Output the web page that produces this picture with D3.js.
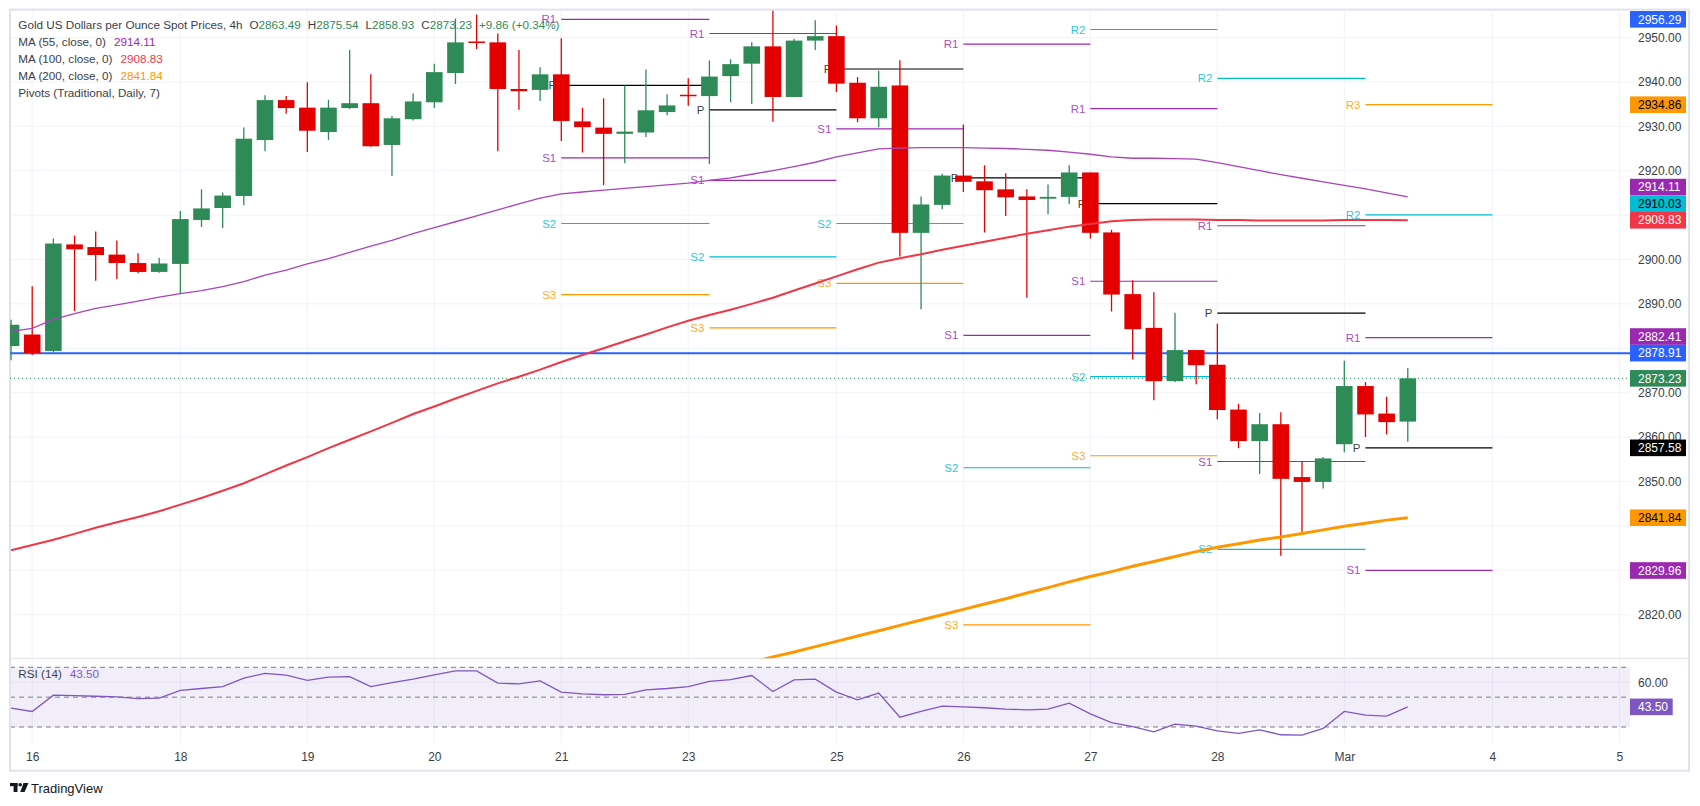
<!DOCTYPE html>
<html>
<head>
<meta charset="utf-8">
<script src="https://cdn.jsdelivr.net/npm/d3@7"></script>
<style>
  body { margin: 0; background: #fff; }
  text { font-family: "Liberation Sans", Arial, sans-serif; }
</style>
</head>
<body>
<svg id="chart" width="1700" height="806"></svg>
<script>
// 4h candles, Feb 16 -> Mar 3
var opens  = [2880.5,2883.1,2879.4,2903.4,2902.8,2901.1,2899.2,2897.2,2899.0,2908.9,2911.6,2914.3,2926.9,2935.9,2934.2,2928.7,2934.1,2935.2,2925.8,2931.6,2935.4,2942.0,2949.1,2948.9,2938.4,2938.2,2941.7,2931.1,2929.7,2928.3,2928.6,2933.2,2937.1,2936.8,2941.3,2944.1,2948.0,2936.6,2949.3,2950.3,2939.8,2931.8,2939.2,2906.0,2912.3,2918.9,2917.6,2915.8,2914.2,2913.7,2914.1,2919.6,2906.1,2892.2,2884.6,2872.6,2879.6,2876.3,2866.2,2859.1,2862.9,2851.0,2849.9,2858.4,2871.5,2865.3,2863.49];
var highs  = [2886.4,2894.0,2904.7,2905.4,2906.3,2904.3,2901.4,2900.4,2910.9,2915.8,2915.1,2929.7,2937.0,2936.8,2939.9,2936.0,2947.2,2941.7,2932.3,2937.4,2944.1,2954.3,2955.2,2950.9,2947.2,2943.3,2949.8,2934.2,2936.3,2939.2,2942.8,2937.2,2940.8,2944.8,2945.1,2948.9,2956.0,2949.7,2953.9,2952.7,2941.1,2942.5,2944.9,2914.2,2919.3,2930.4,2921.2,2919.4,2915.8,2916.9,2921.2,2919.6,2906.7,2895.3,2892.6,2888.0,2879.6,2885.5,2867.5,2865.4,2865.6,2854.5,2855.5,2877.2,2872.4,2869.1,2875.54];
var lows   = [2877.3,2878.5,2879.0,2888.4,2895.2,2895.6,2896.9,2897.0,2892.2,2907.3,2907.1,2912.2,2924.4,2932.8,2924.2,2926.9,2933.9,2925.4,2918.8,2931.3,2934.1,2939.5,2947.4,2924.4,2933.7,2935.7,2926.7,2924.1,2916.7,2921.7,2927.6,2932.5,2934.6,2921.5,2935.4,2935.0,2931.0,2936.6,2947.2,2937.7,2930.9,2929.8,2900.7,2888.8,2911.3,2915.2,2906.1,2909.8,2891.4,2910.2,2912.5,2904.7,2888.3,2877.5,2868.3,2872.4,2871.9,2864.0,2857.5,2851.7,2833.3,2838.7,2848.4,2856.6,2860.0,2860.6,2858.93];
var closes = [2885.3,2878.9,2903.6,2902.3,2901.0,2899.2,2897.2,2899.1,2909.1,2911.5,2914.4,2927.2,2935.9,2934.1,2929.0,2934.2,2935.2,2925.5,2931.8,2935.6,2942.2,2948.9,2949.0,2938.4,2937.9,2941.7,2931.2,2929.8,2928.3,2928.8,2933.6,2934.7,2936.9,2941.2,2944.0,2948.0,2936.6,2949.3,2950.3,2939.6,2931.8,2938.9,2906.0,2912.4,2918.9,2917.5,2915.6,2914.0,2913.4,2914.1,2919.6,2906.0,2892.1,2884.3,2872.6,2879.6,2876.2,2866.1,2859.1,2862.9,2850.6,2849.9,2855.2,2871.5,2865.1,2863.37,2873.23];

var ma55  = [2883.8,2884.5,2886.5,2887.8,2889.0,2889.8,2890.6,2891.5,2892.3,2893.0,2893.9,2895.0,2896.5,2897.6,2899.0,2900.2,2901.6,2903.0,2904.3,2905.8,2907.2,2908.5,2909.8,2911.2,2912.5,2913.8,2914.8,2915.2,2915.6,2916.0,2916.4,2916.8,2917.2,2917.8,2918.4,2919.2,2920.0,2920.9,2921.9,2923.1,2924.0,2924.9,2925.1,2925.2,2925.2,2925.2,2925.1,2925.0,2924.8,2924.6,2924.2,2923.7,2923.1,2922.8,2922.8,2922.7,2922.6,2921.8,2920.9,2920.0,2919.1,2918.3,2917.5,2916.7,2915.9,2915.0,2914.11];
var ma100 = [2834.5,2835.7,2836.9,2838.2,2839.6,2840.8,2842.0,2843.3,2844.8,2846.3,2847.9,2849.6,2851.6,2853.6,2855.5,2857.5,2859.4,2861.3,2863.2,2865.2,2866.9,2868.7,2870.4,2872.1,2873.6,2875.2,2876.9,2878.5,2880.0,2881.6,2883.1,2884.7,2886.2,2887.5,2888.7,2890.0,2891.4,2893.0,2894.6,2896.2,2897.8,2899.3,2900.3,2901.2,2902.2,2903.1,2904.0,2904.9,2905.8,2906.6,2907.4,2908.0,2908.6,2908.9,2909.0,2909.0,2909.0,2908.9,2908.9,2908.8,2908.8,2908.8,2908.8,2908.9,2908.9,2908.9,2908.83];
// MA200 sits below the visible price range before candle 35
var ma200 = [null,null,null,null,null,null,null,null,null,null,null,null,null,null,null,null,null,null,null,null,null,null,null,null,null,null,null,null,null,null,null,null,null,null,null,2809.3,2810.5,2811.6,2812.8,2814.0,2815.2,2816.4,2817.6,2818.8,2820.0,2821.2,2822.4,2823.6,2824.9,2826.1,2827.4,2828.6,2829.7,2830.9,2832.0,2833.1,2834.2,2835.2,2836.0,2836.8,2837.5,2838.3,2839.1,2839.9,2840.6,2841.3,2841.84];
var rsi14 = [42.6,40.4,51.3,51.0,50.6,50.2,49.0,49.3,54.5,55.8,57.1,62.7,65.9,64.7,61.2,63.4,63.8,57.1,59.8,62.1,65.0,67.6,67.6,59.4,58.9,60.9,53.4,52.2,51.6,51.8,54.9,55.8,57.1,60.6,61.8,64.5,53.8,61.6,62.1,53.4,48.2,52.7,36.6,40.4,44.0,43.5,42.9,42.0,41.5,42.0,46.0,38.8,33.0,30.3,26.8,31.9,30.6,27.4,25.7,28.1,24.8,24.5,29.0,40.4,37.9,37.3,43.5];

var dayLabels = ["16","18","19","20","21","23","25","26","27","28","Mar","4","5"];
var dayIndex  = [1,8,14,20,26,32,39,45,51,57,63,70,76];
var priceTicks = [2820,2830,2840,2850,2860,2870,2880,2890,2900,2910,2920,2930,2940,2950];
var rsiTicks = [60, 40];

// daily traditional pivots, last 7 sessions (null = outside the view)
var pivStart = [26,33,39,45,51,57,64];
var pivEnd   = [33,39,45,51,57,64,70];
var pivP  = [2939.2,2933.7,2942.9,2918.4,2912.6,2887.9,2857.58];
var pivR1 = [2954.1,2950.9,null,2948.5,2934.0,2907.6,2882.41];
var pivR2 = [null,null,null,null,2951.8,2940.8,2910.03];
var pivR3 = [null,null,null,null,null,null,2934.86];
var pivS1 = [2922.9,2917.8,2929.4,2882.9,2895.1,2854.5,2829.96];
var pivS2 = [2908.1,2900.6,2908.1,2853.1,2873.6,2834.7,null];
var pivS3 = [2892.1,2884.6,2894.6,2817.7,2855.8,null,null];

var hLine = 2878.91;
var topMarker = 2956.29;

var UP = "#2e8b57", DOWN = "#e50000";
var C55 = "#a944bb", C100 = "#f23645", C200 = "#ff9800";
var CPURP = "#9c27b0", CCYAN = "#00bcd4", CORNG = "#ff9800", CBLK = "#000000";
var GRID = "#f0f3fa", BORDER = "#e0e3eb", TXT = "#3b3e48";

var svg = d3.select("#chart");
var plotL = 10, plotR = 1630, priceTop = 9.6, priceBot = 658.3, rsiBot = 743, axisR = 1689;

var x = d3.scaleLinear().domain([0, 76]).range([11.04, 11.04 + 76 * 21.163]);
var y = d3.scaleLinear().domain([2810.18, 2956.28]).range([priceBot, priceTop]);
var yR = d3.scaleLinear().domain([30, 70]).range([727, 667.3]);
var bodyW = 16.6;
var tagH = 16.6;

var defs = svg.append("defs");
defs.append("clipPath").attr("id", "clipPrice").append("rect")
  .attr("x", plotL).attr("y", priceTop).attr("width", plotR - plotL).attr("height", priceBot - priceTop);
defs.append("clipPath").attr("id", "clipRsi").append("rect")
  .attr("x", plotL).attr("y", priceBot).attr("width", plotR - plotL).attr("height", rsiBot - priceBot);

// grid
var grid = svg.append("g");
grid.selectAll("line.h").data(priceTicks).enter().append("line")
  .attr("x1", plotL).attr("x2", plotR).attr("y1", function (d) { return y(d); }).attr("y2", function (d) { return y(d); })
  .attr("stroke", GRID).attr("stroke-width", 1);
grid.selectAll("line.v").data(dayIndex).enter().append("line")
  .attr("x1", function (d) { return x(d); }).attr("x2", function (d) { return x(d); })
  .attr("y1", priceTop).attr("y2", rsiBot).attr("stroke", GRID).attr("stroke-width", 1);

// RSI band + levels
var rsiG = svg.append("g");
rsiG.append("rect").attr("x", plotL).attr("width", plotR - plotL)
  .attr("y", yR(70)).attr("height", yR(30) - yR(70)).attr("fill", "#7e57c2").attr("fill-opacity", 0.1);
rsiG.append("line")
  .attr("x1", plotL).attr("x2", plotR).attr("y1", yR(60)).attr("y2", yR(60))
  .attr("stroke", "#e6e3f0");
rsiG.selectAll("line.lvl").data([70, 50, 30]).enter().append("line")
  .attr("x1", plotL).attr("x2", plotR).attr("y1", function (d) { return yR(d); }).attr("y2", function (d) { return yR(d); })
  .attr("stroke", "#787b86").attr("stroke-dasharray", "5,4").attr("stroke-width", 1);

// frame + pane separator
svg.append("rect").attr("x", plotL).attr("y", priceTop).attr("width", axisR - plotL).attr("height", 770.7 - priceTop)
  .attr("fill", "none").attr("stroke", BORDER).attr("stroke-width", 2);
svg.append("line").attr("x1", plotL).attr("x2", axisR).attr("y1", priceBot).attr("y2", priceBot)
  .attr("stroke", BORDER).attr("stroke-width", 1);

// pivots
var pane = svg.append("g").attr("clip-path", "url(#clipPrice)");
var levels = [
  { name: "P",  vals: pivP,  color: CBLK },
  { name: "R1", vals: pivR1, color: CPURP },
  { name: "R2", vals: pivR2, color: CCYAN },
  { name: "R3", vals: pivR3, color: CORNG },
  { name: "S1", vals: pivS1, color: CPURP },
  { name: "S2", vals: pivS2, color: CCYAN },
  { name: "S3", vals: pivS3, color: CORNG }
];
var segs = [];
levels.forEach(function (lv) {
  lv.vals.forEach(function (v, i) {
    if (v !== null) segs.push({ name: lv.name, v: v, s: pivStart[i], e: pivEnd[i], color: lv.color });
  });
});
var pivG = pane.append("g");
pivG.selectAll("line").data(segs).enter().append("line")
  .attr("x1", function (d) { return x(d.s); }).attr("x2", function (d) { return x(d.e); })
  .attr("y1", function (d) { return y(d.v); }).attr("y2", function (d) { return y(d.v); })
  .attr("stroke", function (d) { return d.color; }).attr("stroke-width", 1.2);
pivG.selectAll("text").data(segs).enter().append("text")
  .attr("x", function (d) { return x(d.s) - 5; }).attr("y", function (d) { return y(d.v); })
  .attr("dy", "0.35em").attr("text-anchor", "end").attr("font-size", 11.5)
  .attr("fill", function (d) { return d.color === CBLK ? "#131722" : d.color; })
  .attr("fill-opacity", 0.85)
  .text(function (d) { return d.name; });

// horizontal line + last price
pane.append("line").attr("x1", plotL).attr("x2", plotR).attr("y1", y(hLine)).attr("y2", y(hLine))
  .attr("stroke", "#2962ff").attr("stroke-width", 2);
pane.append("line").attr("x1", plotL).attr("x2", plotR)
  .attr("y1", y(closes[closes.length - 1])).attr("y2", y(closes[closes.length - 1]))
  .attr("stroke", UP).attr("stroke-width", 1).attr("stroke-dasharray", "1,3");

// candles
var idx = d3.range(opens.length);
var cg = pane.append("g").selectAll("g").data(idx).enter().append("g");
cg.append("line")
  .attr("x1", function (i) { return x(i); }).attr("x2", function (i) { return x(i); })
  .attr("y1", function (i) { return y(highs[i]); }).attr("y2", function (i) { return y(lows[i]); })
  .attr("stroke", function (i) { return closes[i] >= opens[i] ? UP : DOWN; }).attr("stroke-width", 1.3);
cg.append("rect")
  .attr("x", function (i) { return x(i) - bodyW / 2; }).attr("width", bodyW)
  .attr("y", function (i) { return y(Math.max(opens[i], closes[i])); })
  .attr("height", function (i) { return Math.max(1.5, Math.abs(y(opens[i]) - y(closes[i]))); })
  .attr("fill", function (i) { return closes[i] >= opens[i] ? UP : DOWN; });

// moving averages
function maLine(arr) {
  return d3.line().defined(function (d) { return d !== null; })
    .x(function (d, i) { return x(i); }).y(function (d) { return y(d); })(arr);
}
pane.append("path").attr("d", maLine(ma55)).attr("fill", "none").attr("stroke", C55).attr("stroke-width", 1.3);
pane.append("path").attr("d", maLine(ma100)).attr("fill", "none").attr("stroke", C100).attr("stroke-width", 2);
pane.append("path").attr("d", maLine(ma200)).attr("fill", "none").attr("stroke", C200).attr("stroke-width", 3);

// RSI line
svg.append("g").attr("clip-path", "url(#clipRsi)").append("path")
  .attr("d", d3.line().x(function (d, i) { return x(i); }).y(function (d) { return yR(d); })(rsi14))
  .attr("fill", "none").attr("stroke", "#7e57c2").attr("stroke-width", 1.3);

// price labels on the axis, stacked when they collide
var last = opens.length - 1, lp = pivP.length - 1;
var rsiLast = rsi14[rsi14.length - 1];
var tags = [
  { v: topMarker, bg: "#2962ff", fg: "#fff" },
  { v: pivR3[lp], bg: CORNG, fg: "#000" },
  { v: ma55[last], bg: CPURP, fg: "#fff" },
  { v: pivR2[lp], bg: CCYAN, fg: "#000" },
  { v: ma100[last], bg: C100, fg: "#fff" },
  { v: pivR1[lp], bg: CPURP, fg: "#fff" },
  { v: hLine, bg: "#2962ff", fg: "#fff" },
  { v: closes[last], bg: UP, fg: "#fff" },
  { v: pivP[lp], bg: "#000", fg: "#fff" },
  { v: ma200[last], bg: C200, fg: "#000" },
  { v: pivS1[lp], bg: CPURP, fg: "#fff" }
];
tags.forEach(function (t) { t.y = Math.max(y(t.v), 11 + tagH / 2); });
tags.sort(function (a, b) { return a.y - b.y; });
for (var k = tags.length - 2; k >= 0; k--) {
  if (tags[k].y > tags[k + 1].y - tagH) tags[k].y = tags[k + 1].y - tagH;
}

// axis ticks that sit right under a tag are dropped, as TradingView does
function freeTick(py, tagYs) {
  return tagYs.every(function (ty) { return Math.abs(ty - py) >= tagH * 0.6; });
}
var tagYs = tags.map(function (t) { return t.y; });
var shownPrice = priceTicks.filter(function (v) { return freeTick(y(v), tagYs); });
var shownRsi = rsiTicks.filter(function (v) { return freeTick(yR(v), [yR(rsiLast)]); });

var yAxisG = svg.append("g").attr("transform", "translate(1638,0)")
  .call(d3.axisRight(y).tickValues(shownPrice).tickSize(0).tickPadding(0).tickFormat(d3.format(".2f")));
yAxisG.select(".domain").remove();
yAxisG.selectAll("text").attr("font-size", 12).attr("fill", TXT).attr("font-family", "Liberation Sans, Arial, sans-serif");

var rAxisG = svg.append("g").attr("transform", "translate(1638,0)")
  .call(d3.axisRight(yR).tickValues(shownRsi).tickSize(0).tickPadding(0).tickFormat(d3.format(".2f")));
rAxisG.select(".domain").remove();
rAxisG.selectAll("text").attr("font-size", 12).attr("fill", TXT).attr("font-family", "Liberation Sans, Arial, sans-serif");

// time axis
var xAxisG = svg.append("g").attr("transform", "translate(0,756.7)")
  .call(d3.axisBottom(x).tickValues(dayIndex).tickSize(0).tickPadding(0)
    .tickFormat(function (d, i) { return dayLabels[i]; }));
xAxisG.select(".domain").remove();
xAxisG.selectAll("text").attr("y", 0).attr("dy", "0.35em").attr("font-size", 12).attr("fill", TXT)
  .attr("font-family", "Liberation Sans, Arial, sans-serif");

var tg = svg.append("g").selectAll("g").data(tags).enter().append("g");
tg.append("rect").attr("x", 1630).attr("width", 56).attr("y", function (d) { return d.y - tagH / 2; })
  .attr("height", tagH).attr("fill", function (d) { return d.bg; });
tg.append("text").attr("x", 1638).attr("y", function (d) { return d.y; }).attr("dy", "0.35em")
  .attr("font-size", 12).attr("fill", function (d) { return d.fg; })
  .text(function (d) { return d3.format(".2f")(d.v); });

// RSI value tag
svg.append("rect").attr("x", 1630).attr("width", 42.7).attr("y", yR(rsiLast) - tagH / 2).attr("height", tagH).attr("fill", "#7e57c2");
svg.append("text").attr("x", 1638).attr("y", yR(rsiLast)).attr("dy", "0.35em").attr("font-size", 12).attr("fill", "#fff")
  .text(d3.format(".2f")(rsiLast));

// legend
function legendRow(yc, pieces) {
  var cx = 18.3;
  pieces.forEach(function (p) {
    var t = svg.append("text").attr("x", cx).attr("y", yc).attr("dy", "0.35em")
      .attr("font-size", 11.7).attr("fill", p[1]).text(p[0]);
    cx += t.node().getComputedTextLength() + p[2];
  });
}
var chg = closes[last] - closes[last - 1];
var pct = chg / closes[last - 1] * 100;
var f2 = d3.format(".2f");
legendRow(25, [
  ["Gold US Dollars per Ounce Spot Prices, 4h", TXT, 7],
  ["O", TXT, 0], [f2(opens[last]), UP, 7],
  ["H", TXT, 0], [f2(highs[last]), UP, 7],
  ["L", TXT, 0], [f2(lows[last]), UP, 7],
  ["C", TXT, 0], [f2(closes[last]), UP, 7],
  ["+" + f2(chg) + " (+" + f2(pct) + "%)", UP, 0]
]);
legendRow(42, [["MA (55, close, 0)", TXT, 8], [f2(ma55[last]), CPURP, 0]]);
legendRow(59, [["MA (100, close, 0)", TXT, 8], [f2(ma100[last]), C100, 0]]);
legendRow(76, [["MA (200, close, 0)", TXT, 8], [f2(ma200[last]), C200, 0]]);
legendRow(92.5, [["Pivots (Traditional, Daily, 7)", TXT, 0]]);
legendRow(674, [["RSI (14)", TXT, 8], [f2(rsiLast), "#7e57c2", 0]]);

// TradingView mark
var logo = svg.append("g").attr("fill", "#131722");
logo.append("rect").attr("x", 10).attr("y", 783).attr("width", 7.5).attr("height", 3.2);
logo.append("rect").attr("x", 13.6).attr("y", 783).attr("width", 3.9).attr("height", 9);
logo.append("circle").attr("cx", 20.2).attr("cy", 784.8).attr("r", 1.8);
logo.append("path").attr("d", "M23.5,783 L28.5,783 L24.6,792 L20.3,792 Z");
svg.append("text").attr("x", 31).attr("y", 788).attr("dy", "0.35em").attr("font-size", 13)
  .attr("fill", "#131722").text("TradingView");
</script>
</body>
</html>
